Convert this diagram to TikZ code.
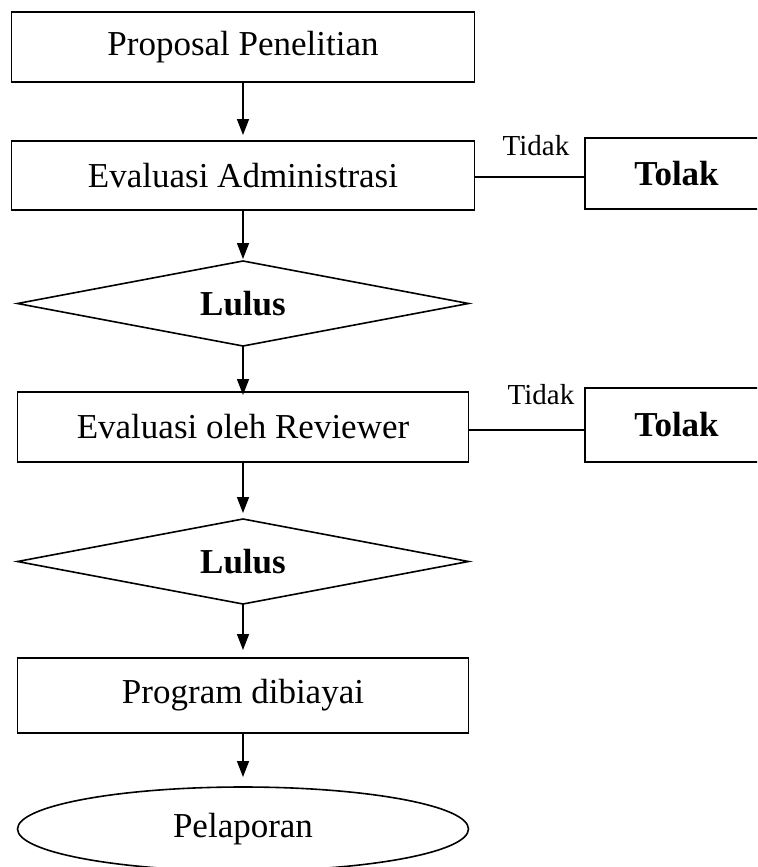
\documentclass[tikz,border=0pt]{standalone}
\usepackage{fontspec}
\setmainfont{Liberation Serif}
\usetikzlibrary{shapes.geometric,arrows.meta}
\begin{document}
\begin{tikzpicture}[
    x=0.5pt, y=-0.5pt,
    font=\fontsize{17.5}{21}\selectfont,
    box/.style={draw, line width=0.8pt, align=center, inner sep=0pt, outer sep=0pt, minimum width=231.5pt},
    tolakbox/.style={draw, line width=0.8pt, inner sep=0pt, outer sep=0pt, minimum width=91.5pt, font=\fontsize{17.5}{21}\selectfont\bfseries},
    decide/.style={draw, diamond, aspect=5.3, line width=0.8pt, inner sep=0pt, outer sep=0pt, minimum width=225.5pt, minimum height=42.5pt, font=\fontsize{17.5}{21}\selectfont\bfseries},
    finish/.style={draw, ellipse, line width=0.8pt, inner sep=0pt, outer sep=0pt, minimum width=225.5pt, minimum height=42pt},
    lbl/.style={inner sep=0pt, font=\fontsize{14.5}{17}\selectfont},
    arr/.style={-{Triangle[length=8pt, width=6pt]}, line width=0.8pt, shorten >=3pt},
    line/.style={line width=0.8pt}
]
\useasboundingbox (0,0) rectangle (757,867);
\clip (0,0) rectangle (757,867);

\node[box, minimum height=35pt] (prop) at (243,47) {Proposal Penelitian};
\node[box, minimum height=34.5pt] (admin) at (243,175.5) {Evaluasi Administrasi};
\node[tolakbox, minimum height=35.5pt] (tolakA) at (676.5,173.5) {Tolak};
\node[decide] (lulusA) at (243,303.5) {Lulus};
\node[box, minimum width=225.5pt, minimum height=35pt] (review) at (243,427) {Evaluasi oleh Reviewer};
\node[tolakbox, minimum height=37pt] (tolakB) at (676.5,425) {Tolak};
\node[decide] (lulusB) at (243,561.5) {Lulus};
\node[box, minimum width=225.5pt, minimum height=37.5pt] (funded) at (243,695.5) {Program dibiayai};
\node[finish] (report) at (243,829) {Pelaporan};

\node[lbl] (tidakA) at (536,146) {Tidak};
\node[lbl] (tidakB) at (541,395) {Tidak};

\draw[arr] (prop) -- (admin);
\draw[arr, shorten >=1pt] (admin) -- (lulusA);
\draw[arr, shorten >=-1.5pt] (lulusA) -- (review);
\draw[arr] (review) -- (lulusB);
\draw[arr, shorten >=4pt] (lulusB) -- (funded);
\draw[arr, shorten >=5pt] (funded) -- (report);
\draw[line] (admin.east) ++(0,1.5) -- (tolakA.west |- 0,177);
\draw[line] (review.east) ++(0,3) -- (tolakB.west |- 0,430);
\end{tikzpicture}
\end{document}
